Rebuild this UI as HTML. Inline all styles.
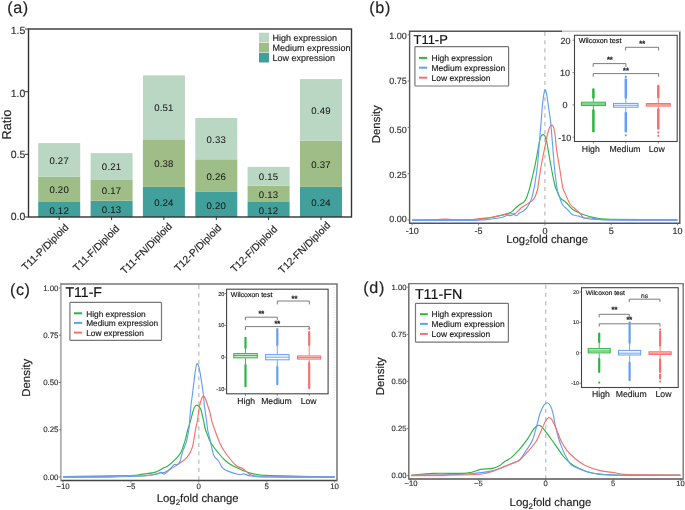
<!DOCTYPE html>
<html><head><meta charset="utf-8"><style>
html,body{margin:0;padding:0;background:#fff;}
svg{display:block;} text{stroke-width:0.16px;} svg{will-change:transform;text-rendering:geometricPrecision;font-family:"Liberation Sans", sans-serif;}
</style></head><body>
<svg width="685" height="510" viewBox="0 0 685 510">
<rect width="685" height="510" fill="#fff"/>
<text x="7.2" y="13.4" font-size="16.2" fill="#222" stroke="#222" letter-spacing="0.6">(a)</text>
<rect x="38.2" y="202.0" width="42" height="15.0" fill="#41a09b"/>
<rect x="38.2" y="176.9" width="42" height="25.1" fill="#9fbd86"/>
<rect x="38.2" y="143.1" width="42" height="33.8" fill="#b9d7c3"/>
<text x="59.2" y="213.5" font-size="9.60" text-anchor="middle" fill="#1a1a1a" stroke="#1a1a1a" letter-spacing="0.2" style="stroke-width:0.05px">0.12</text>
<text x="59.2" y="193.4" font-size="9.60" text-anchor="middle" fill="#1a1a1a" stroke="#1a1a1a" letter-spacing="0.2" style="stroke-width:0.05px">0.20</text>
<text x="59.2" y="164.0" font-size="9.60" text-anchor="middle" fill="#1a1a1a" stroke="#1a1a1a" letter-spacing="0.2" style="stroke-width:0.05px">0.27</text>
<line x1="59.2" y1="217.0" x2="59.2" y2="220.0" stroke="#333" stroke-width="1"/>
<text transform="translate(69.2,228.0) rotate(-45)" font-size="10.2" text-anchor="end" fill="#222" stroke="#222">T11-P/Diploid</text>
<rect x="90.6" y="200.7" width="42" height="16.3" fill="#41a09b"/>
<rect x="90.6" y="179.4" width="42" height="21.3" fill="#9fbd86"/>
<rect x="90.6" y="153.1" width="42" height="26.3" fill="#b9d7c3"/>
<text x="111.6" y="212.9" font-size="9.60" text-anchor="middle" fill="#1a1a1a" stroke="#1a1a1a" letter-spacing="0.2" style="stroke-width:0.05px">0.13</text>
<text x="111.6" y="194.1" font-size="9.60" text-anchor="middle" fill="#1a1a1a" stroke="#1a1a1a" letter-spacing="0.2" style="stroke-width:0.05px">0.17</text>
<text x="111.6" y="170.2" font-size="9.60" text-anchor="middle" fill="#1a1a1a" stroke="#1a1a1a" letter-spacing="0.2" style="stroke-width:0.05px">0.21</text>
<line x1="111.6" y1="217.0" x2="111.6" y2="220.0" stroke="#333" stroke-width="1"/>
<text transform="translate(120.0,229.2) rotate(-45)" font-size="10.2" text-anchor="end" fill="#222" stroke="#222">T11-F/Diploid</text>
<rect x="142.9" y="186.9" width="42" height="30.1" fill="#41a09b"/>
<rect x="142.9" y="139.3" width="42" height="47.6" fill="#9fbd86"/>
<rect x="142.9" y="75.4" width="42" height="63.9" fill="#b9d7c3"/>
<text x="163.9" y="206.0" font-size="9.60" text-anchor="middle" fill="#1a1a1a" stroke="#1a1a1a" letter-spacing="0.2" style="stroke-width:0.05px">0.24</text>
<text x="163.9" y="167.1" font-size="9.60" text-anchor="middle" fill="#1a1a1a" stroke="#1a1a1a" letter-spacing="0.2" style="stroke-width:0.05px">0.38</text>
<text x="163.9" y="111.3" font-size="9.60" text-anchor="middle" fill="#1a1a1a" stroke="#1a1a1a" letter-spacing="0.2" style="stroke-width:0.05px">0.51</text>
<line x1="163.9" y1="217.0" x2="163.9" y2="220.0" stroke="#333" stroke-width="1"/>
<text transform="translate(172.7,226.9) rotate(-45)" font-size="10.2" text-anchor="end" fill="#222" stroke="#222">T11-FN/Diploid</text>
<rect x="195.3" y="191.9" width="42" height="25.1" fill="#41a09b"/>
<rect x="195.3" y="159.3" width="42" height="32.6" fill="#9fbd86"/>
<rect x="195.3" y="118.0" width="42" height="41.4" fill="#b9d7c3"/>
<text x="216.3" y="208.5" font-size="9.60" text-anchor="middle" fill="#1a1a1a" stroke="#1a1a1a" letter-spacing="0.2" style="stroke-width:0.05px">0.20</text>
<text x="216.3" y="179.6" font-size="9.60" text-anchor="middle" fill="#1a1a1a" stroke="#1a1a1a" letter-spacing="0.2" style="stroke-width:0.05px">0.26</text>
<text x="216.3" y="142.7" font-size="9.60" text-anchor="middle" fill="#1a1a1a" stroke="#1a1a1a" letter-spacing="0.2" style="stroke-width:0.05px">0.33</text>
<line x1="216.3" y1="217.0" x2="216.3" y2="220.0" stroke="#333" stroke-width="1"/>
<text transform="translate(222.1,228.5) rotate(-45)" font-size="10.2" text-anchor="end" fill="#222" stroke="#222">T12-P/Diploid</text>
<rect x="247.6" y="202.0" width="42" height="15.0" fill="#41a09b"/>
<rect x="247.6" y="185.7" width="42" height="16.3" fill="#9fbd86"/>
<rect x="247.6" y="166.9" width="42" height="18.8" fill="#b9d7c3"/>
<text x="268.6" y="213.5" font-size="9.60" text-anchor="middle" fill="#1a1a1a" stroke="#1a1a1a" letter-spacing="0.2" style="stroke-width:0.05px">0.12</text>
<text x="268.6" y="197.8" font-size="9.60" text-anchor="middle" fill="#1a1a1a" stroke="#1a1a1a" letter-spacing="0.2" style="stroke-width:0.05px">0.13</text>
<text x="268.6" y="180.3" font-size="9.60" text-anchor="middle" fill="#1a1a1a" stroke="#1a1a1a" letter-spacing="0.2" style="stroke-width:0.05px">0.15</text>
<line x1="268.6" y1="217.0" x2="268.6" y2="220.0" stroke="#333" stroke-width="1"/>
<text transform="translate(277.9,229.8) rotate(-45)" font-size="10.2" text-anchor="end" fill="#222" stroke="#222">T12-F/Diploid</text>
<rect x="300.0" y="186.9" width="42" height="30.1" fill="#41a09b"/>
<rect x="300.0" y="140.5" width="42" height="46.4" fill="#9fbd86"/>
<rect x="300.0" y="79.1" width="42" height="61.4" fill="#b9d7c3"/>
<text x="321.0" y="206.0" font-size="9.60" text-anchor="middle" fill="#1a1a1a" stroke="#1a1a1a" letter-spacing="0.2" style="stroke-width:0.05px">0.24</text>
<text x="321.0" y="167.7" font-size="9.60" text-anchor="middle" fill="#1a1a1a" stroke="#1a1a1a" letter-spacing="0.2" style="stroke-width:0.05px">0.37</text>
<text x="321.0" y="113.8" font-size="9.60" text-anchor="middle" fill="#1a1a1a" stroke="#1a1a1a" letter-spacing="0.2" style="stroke-width:0.05px">0.49</text>
<line x1="321.0" y1="217.0" x2="321.0" y2="220.0" stroke="#333" stroke-width="1"/>
<text transform="translate(331.0,225.8) rotate(-45)" font-size="10.2" text-anchor="end" fill="#222" stroke="#222">T12-FN/Diploid</text>
<rect x="28.5" y="29.0" width="323.0" height="188.0" fill="none" stroke="#333" stroke-width="1.4"/>
<line x1="25" y1="217.0" x2="28.5" y2="217.0" stroke="#333" stroke-width="1"/>
<text x="25.3" y="219.7" font-size="10.50" text-anchor="end" fill="#333" stroke="#333" >0.0</text>
<line x1="25" y1="154.3" x2="28.5" y2="154.3" stroke="#333" stroke-width="1"/>
<text x="25.3" y="158.0" font-size="10.50" text-anchor="end" fill="#333" stroke="#333" >0.5</text>
<line x1="25" y1="91.7" x2="28.5" y2="91.7" stroke="#333" stroke-width="1"/>
<text x="25.3" y="96.8" font-size="10.50" text-anchor="end" fill="#333" stroke="#333" >1.0</text>
<line x1="25" y1="29.0" x2="28.5" y2="29.0" stroke="#333" stroke-width="1"/>
<text x="25.3" y="33.8" font-size="10.50" text-anchor="end" fill="#333" stroke="#333" >1.5</text>
<text transform="translate(11,139.5) rotate(-90)" font-size="12.8" fill="#222" stroke="#222">Ratio</text>
<rect x="259" y="32.7" width="10" height="9.6" fill="#b9d7c3"/>
<text x="272.5" y="40.9" font-size="9.00" text-anchor="start" fill="#222" stroke="#222" >High expression</text>
<rect x="259" y="42.8" width="10" height="9.6" fill="#9fbd86"/>
<text x="272.5" y="51.0" font-size="9.00" text-anchor="start" fill="#222" stroke="#222" >Medium expression</text>
<rect x="259" y="52.9" width="10" height="9.6" fill="#41a09b"/>
<text x="272.5" y="61.1" font-size="9.00" text-anchor="start" fill="#222" stroke="#222" >Low expression</text>
<text x="369.3" y="13.3" font-size="16.2" fill="#222" stroke="#222" letter-spacing="0.6">(b)</text>
<line x1="544.9" y1="32.0" x2="544.9" y2="223.3" stroke="#c4c4c4" stroke-width="1.4" stroke-dasharray="4.08,4.08"/>
<path d="M412.2,220.2 C421.8,220.2 458.7,220.2 470.0,220.0 C481.3,219.8 476.1,219.5 480.0,219.0 C483.9,218.5 489.2,217.9 493.1,217.2 C497.0,216.5 501.3,215.2 503.6,214.6 C505.9,214.0 505.8,213.9 507.0,213.6 C508.2,213.3 509.6,213.1 510.6,212.6 C511.6,212.1 512.3,211.3 513.0,210.6 C513.7,209.9 513.9,209.6 515.0,208.6 C516.1,207.6 517.9,205.8 519.4,204.7 C520.9,203.6 522.6,203.2 523.8,202.1 C525.0,201.0 525.5,200.1 526.4,198.1 C527.3,196.1 528.3,192.5 529.0,190.3 C529.7,188.1 529.4,189.2 530.4,185.0 C531.4,180.8 533.7,171.7 535.1,165.0 C536.5,158.3 537.9,149.5 538.8,145.0 C539.7,140.5 539.8,139.6 540.3,138.0 C540.8,136.4 541.1,135.9 541.6,135.3 C542.1,134.7 542.6,134.6 543.1,134.6 C543.6,134.6 544.1,134.8 544.6,135.5 C545.1,136.2 545.5,137.4 546.0,139.0 C546.5,140.6 546.5,140.7 547.3,145.0 C548.1,149.3 549.5,158.3 550.8,165.0 C552.0,171.7 553.8,180.8 554.8,185.0 C555.8,189.2 556.0,188.2 556.7,190.0 C557.4,191.8 558.0,194.0 558.8,195.5 C559.6,197.0 560.1,197.8 561.4,199.0 C562.7,200.2 564.7,201.2 566.6,203.0 C568.5,204.8 570.5,207.8 572.8,209.5 C575.1,211.2 577.8,212.3 580.6,213.5 C583.4,214.7 586.5,215.7 589.4,216.5 C592.3,217.3 594.8,217.9 598.2,218.3 C601.6,218.8 596.8,218.9 610.0,219.2 C623.2,219.5 666.2,219.9 677.5,220.0" fill="none" stroke="#2bb641" stroke-width="1.15" stroke-linejoin="round"/>
<path d="M412.2,220.2 C415.5,220.2 427.4,220.2 432.0,220.1 C436.6,220.0 437.7,219.6 440.0,219.4 C442.3,219.2 443.8,219.1 446.0,219.1 C448.2,219.1 449.8,219.5 453.0,219.7 C456.2,219.9 461.7,220.1 465.0,220.1 C468.3,220.1 470.5,219.8 473.0,219.5 C475.5,219.2 477.4,218.9 480.0,218.6 C482.6,218.3 485.2,218.4 488.8,217.8 C492.4,217.2 498.5,215.8 501.9,215.2 C505.2,214.5 506.7,214.2 508.9,213.9 C511.1,213.6 513.4,214.1 515.0,213.5 C516.6,212.9 517.3,211.4 518.5,210.4 C519.7,209.4 520.4,208.5 522.0,207.3 C523.6,206.1 526.5,204.6 528.2,203.4 C530.0,202.2 531.3,201.5 532.5,200.3 C533.7,199.1 534.3,198.4 535.2,196.4 C536.1,194.4 537.3,190.4 537.8,188.5 C538.3,186.6 537.6,188.9 538.2,185.0 C538.8,181.1 540.1,171.7 541.3,165.0 C542.5,158.3 544.3,150.0 545.3,145.0 C546.3,140.0 546.6,137.8 547.3,135.0 C548.0,132.2 548.8,129.5 549.3,128.0 C549.8,126.5 550.1,126.3 550.5,125.8 C550.9,125.3 551.3,125.1 551.7,125.1 C552.1,125.1 552.5,125.3 552.9,125.8 C553.2,126.3 553.4,126.1 553.8,128.0 C554.2,129.9 554.9,133.7 555.3,137.0 C555.7,140.3 555.8,143.3 556.4,148.0 C557.0,152.7 558.1,158.8 559.1,165.0 C560.1,171.2 561.6,180.8 562.3,185.0 C563.0,189.2 563.0,188.5 563.5,190.0 C564.0,191.5 564.2,191.4 565.3,193.8 C566.4,196.2 568.6,201.9 570.1,204.3 C571.6,206.7 573.0,206.9 574.5,208.2 C576.0,209.5 577.4,210.6 578.9,212.1 C580.4,213.6 582.0,216.4 583.3,217.4 C584.6,218.4 584.0,218.0 586.8,218.3 C589.6,218.7 584.9,219.2 600.0,219.5 C615.1,219.8 664.6,219.9 677.5,220.0" fill="none" stroke="#f6716d" stroke-width="1.15" stroke-linejoin="round"/>
<path d="M412.2,220.2 C423.5,220.1 466.5,220.1 480.0,219.8 C493.5,219.6 489.8,219.0 493.1,218.7 C496.5,218.4 498.2,218.2 500.1,217.8 C502.0,217.4 503.3,216.9 504.5,216.5 C505.7,216.1 506.1,215.3 507.1,215.2 C508.1,215.0 509.5,215.8 510.6,215.6 C511.7,215.4 512.7,214.3 513.7,214.3 C514.7,214.3 515.8,215.8 516.8,215.6 C517.8,215.4 518.4,213.7 519.4,213.0 C520.4,212.3 521.7,212.1 522.9,211.3 C524.1,210.5 525.4,209.4 526.4,208.2 C527.4,207.0 528.1,206.0 529.0,204.3 C529.9,202.6 530.9,200.5 531.7,198.1 C532.5,195.7 533.1,192.2 533.6,190.0 C534.1,187.8 534.1,189.2 534.7,185.0 C535.4,180.8 536.8,171.7 537.5,165.0 C538.2,158.3 538.7,151.2 539.2,145.0 C539.7,138.8 540.2,132.7 540.6,128.1 C541.0,123.5 541.2,121.0 541.5,117.4 C541.8,113.8 541.9,110.2 542.3,106.6 C542.6,103.0 543.2,98.3 543.6,95.8 C544.0,93.3 544.1,92.5 544.4,91.5 C544.7,90.5 544.9,89.6 545.2,89.6 C545.5,89.6 545.7,90.5 546.0,91.5 C546.3,92.5 546.5,93.3 546.9,95.8 C547.3,98.3 548.0,103.0 548.5,106.6 C549.0,110.2 549.6,113.8 550.1,117.4 C550.6,121.0 550.9,124.7 551.2,128.1 C551.5,131.5 551.8,135.1 552.0,137.9 C552.2,140.7 552.2,140.5 552.6,145.0 C553.0,149.5 553.5,157.8 554.2,165.0 C554.9,172.2 556.2,183.1 557.0,188.0 C557.8,192.9 557.9,191.9 558.8,194.6 C559.7,197.3 560.8,201.8 562.3,204.3 C563.8,206.8 565.8,207.8 567.5,209.5 C569.2,211.2 570.9,213.7 572.8,214.8 C574.7,215.9 576.9,215.5 578.9,216.1 C580.9,216.7 583.2,218.0 585.0,218.3 C586.8,218.6 587.2,217.7 589.4,217.8 C591.6,218.0 594.8,218.8 598.2,219.2 C601.6,219.6 596.8,219.9 610.0,220.0 C623.2,220.1 666.2,220.0 677.5,220.0" fill="none" stroke="#62a0f6" stroke-width="1.15" stroke-linejoin="round"/>
<linearGradient id="tg412_0" gradientUnits="userSpaceOnUse" x1="412.2" y1="0" x2="490.0" y2="0"><stop offset="0" stop-color="#62a0f6" stop-opacity="1"/><stop offset="0.8" stop-color="#62a0f6" stop-opacity="1"/><stop offset="1" stop-color="#62a0f6" stop-opacity="0"/></linearGradient>
<rect x="412.2" y="219.40" width="77.8" height="1.4" fill="url(#tg412_0)"/>
<linearGradient id="tg595_1" gradientUnits="userSpaceOnUse" x1="595.0" y1="0" x2="677.5" y2="0"><stop offset="0" stop-color="#62a0f6" stop-opacity="0"/><stop offset="0.35" stop-color="#62a0f6" stop-opacity="1"/><stop offset="1" stop-color="#62a0f6" stop-opacity="1"/></linearGradient>
<rect x="595.0" y="219.30" width="82.5" height="1.4" fill="url(#tg595_1)"/>
<line x1="409.6" y1="223.3" x2="679.8" y2="223.3" stroke="#555" stroke-width="1.4"/>
<line x1="409.6" y1="31.2" x2="409.6" y2="224.0" stroke="#555" stroke-width="1.4"/>
<line x1="679.8" y1="31.2" x2="679.8" y2="224.0" stroke="#555" stroke-width="1.4"/>
<line x1="408.9" y1="31.2" x2="562.0" y2="31.2" stroke="#555" stroke-width="1.4"/>
<line x1="562.0" y1="31.2" x2="680.5" y2="31.2" stroke="#c4c4c4" stroke-width="1.4"/>
<line x1="407.6" y1="220.0" x2="409.6" y2="220.0" stroke="#666" stroke-width="0.8"/>
<text x="406.9" y="221.6" font-size="9.00" text-anchor="end" fill="#333" stroke="#333" >0.00</text>
<line x1="407.6" y1="173.7" x2="409.6" y2="173.7" stroke="#666" stroke-width="0.8"/>
<text x="406.9" y="177.6" font-size="9.00" text-anchor="end" fill="#333" stroke="#333" >0.25</text>
<line x1="407.6" y1="127.4" x2="409.6" y2="127.4" stroke="#666" stroke-width="0.8"/>
<text x="406.9" y="132.6" font-size="9.00" text-anchor="end" fill="#333" stroke="#333" >0.50</text>
<line x1="407.6" y1="81.1" x2="409.6" y2="81.1" stroke="#666" stroke-width="0.8"/>
<text x="406.9" y="83.6" font-size="9.00" text-anchor="end" fill="#333" stroke="#333" >0.75</text>
<line x1="407.6" y1="34.8" x2="409.6" y2="34.8" stroke="#666" stroke-width="0.8"/>
<text x="406.9" y="38.6" font-size="9.00" text-anchor="end" fill="#333" stroke="#333" >1.00</text>
<line x1="412.2" y1="223.3" x2="412.2" y2="225.3" stroke="#666" stroke-width="0.8"/>
<text x="412.2" y="233.5" font-size="9.00" text-anchor="middle" fill="#333" stroke="#333" >-10</text>
<line x1="478.5" y1="223.3" x2="478.5" y2="225.3" stroke="#666" stroke-width="0.8"/>
<text x="478.5" y="233.5" font-size="9.00" text-anchor="middle" fill="#333" stroke="#333" >-5</text>
<line x1="544.9" y1="223.3" x2="544.9" y2="225.3" stroke="#666" stroke-width="0.8"/>
<text x="544.9" y="233.5" font-size="9.00" text-anchor="middle" fill="#333" stroke="#333" >0</text>
<line x1="611.2" y1="223.3" x2="611.2" y2="225.3" stroke="#666" stroke-width="0.8"/>
<text x="611.2" y="233.5" font-size="9.00" text-anchor="middle" fill="#333" stroke="#333" >5</text>
<line x1="677.5" y1="223.3" x2="677.5" y2="225.3" stroke="#666" stroke-width="0.8"/>
<text x="677.5" y="233.5" font-size="9.00" text-anchor="middle" fill="#333" stroke="#333" >10</text>
<text transform="translate(380.0,143.2) rotate(-90)" font-size="11.4" fill="#222" stroke="#222">Density</text>
<text x="506.3" y="242.7" font-size="11.3" fill="#222" stroke="#222">Log<tspan font-size="8" dy="2.5">2</tspan><tspan dy="-2.5">fold change</tspan></text>
<text x="413.6" y="43.6" font-size="12.90" text-anchor="start" fill="#111" stroke="#111" >T11-P</text>
<rect x="414.9" y="46.7" width="93.7" height="39.3" fill="#fff" stroke="#777" stroke-width="1.2" rx="0.8"/>
<line x1="418.9" y1="57.9" x2="427.2" y2="57.9" stroke="#2bb641" stroke-width="2"/>
<text x="431.5" y="61.1" font-size="8.50" text-anchor="start" fill="#1a1a1a" stroke="#1a1a1a" >High expression</text>
<line x1="418.9" y1="67.7" x2="427.2" y2="67.7" stroke="#62a0f6" stroke-width="2"/>
<text x="431.5" y="70.9" font-size="8.50" text-anchor="start" fill="#1a1a1a" stroke="#1a1a1a" >Medium expression</text>
<line x1="418.9" y1="77.7" x2="427.2" y2="77.7" stroke="#f6716d" stroke-width="2"/>
<text x="431.5" y="80.9" font-size="8.50" text-anchor="start" fill="#1a1a1a" stroke="#1a1a1a" >Low expression</text>
<rect x="574.5" y="35.3" width="102.7" height="106.2" fill="#fff" stroke="#444" stroke-width="1.1"/>
<line x1="572.5" y1="137.2" x2="574.5" y2="137.2" stroke="#555" stroke-width="0.7"/>
<text x="571.3" y="140.5" font-size="9.00" text-anchor="end" fill="#333" stroke="#333" >-10</text>
<line x1="572.5" y1="104.9" x2="574.5" y2="104.9" stroke="#555" stroke-width="0.7"/>
<text x="567.6" y="108.1" font-size="9.00" text-anchor="end" fill="#333" stroke="#333" >0</text>
<line x1="572.5" y1="72.6" x2="574.5" y2="72.6" stroke="#555" stroke-width="0.7"/>
<text x="570.0" y="75.8" font-size="9.00" text-anchor="end" fill="#333" stroke="#333" >10</text>
<line x1="572.5" y1="40.2" x2="574.5" y2="40.2" stroke="#555" stroke-width="0.7"/>
<text x="570.4" y="43.5" font-size="9.00" text-anchor="end" fill="#333" stroke="#333" >20</text>
<text x="578.7" y="42.9" font-size="7.20" text-anchor="start" fill="#111" stroke="#111" >Wilcoxon test</text>
<line x1="593.4" y1="141.5" x2="593.4" y2="143.5" stroke="#555" stroke-width="0.7"/>
<text x="590.8" y="151.8" font-size="8.70" text-anchor="middle" fill="#222" stroke="#222" >High</text>
<line x1="625.8" y1="141.5" x2="625.8" y2="143.5" stroke="#555" stroke-width="0.7"/>
<text x="625.0" y="151.8" font-size="8.70" text-anchor="middle" fill="#222" stroke="#222" >Medium</text>
<line x1="658.3" y1="141.5" x2="658.3" y2="143.5" stroke="#555" stroke-width="0.7"/>
<text x="656.7" y="151.8" font-size="8.70" text-anchor="middle" fill="#222" stroke="#222" >Low</text>
<path d="M625.6,50.5 V47.3 H658.6 V50.5" fill="none" stroke="#666" stroke-width="0.85"/>
<text x="642.2" y="46.0" font-size="7.50" text-anchor="middle" fill="#222" stroke="#222" font-weight="bold">**</text>
<path d="M593.2,66.9 V63.6 H625.9 V66.9" fill="none" stroke="#666" stroke-width="0.85"/>
<text x="609.8" y="62.3" font-size="7.50" text-anchor="middle" fill="#222" stroke="#222" font-weight="bold">**</text>
<path d="M593.2,76.7 V73.6 H658.6 V76.7" fill="none" stroke="#666" stroke-width="0.85"/>
<text x="625.9" y="72.5" font-size="7.50" text-anchor="middle" fill="#222" stroke="#222" font-weight="bold">**</text>
<line x1="593.4" y1="97.6" x2="593.4" y2="101.8" stroke="#2bb641" stroke-width="0.9"/>
<line x1="593.4" y1="106.1" x2="593.4" y2="110.4" stroke="#2bb641" stroke-width="0.9"/>
<line x1="593.4" y1="89.4" x2="593.4" y2="97.6" stroke="#2bb641" stroke-width="2.50" stroke-linecap="round"/>
<line x1="593.4" y1="110.4" x2="593.4" y2="122.5" stroke="#2bb641" stroke-width="2.50" stroke-linecap="round"/>
<line x1="593.4" y1="124.0" x2="593.4" y2="131.2" stroke="#2bb641" stroke-width="2.50" stroke-linecap="round"/>
<rect x="581.4" y="102.2" width="24.0" height="3.4" fill="#cdeccf" stroke="#2bb641" stroke-width="1.0"/>
<line x1="581.4" y1="104.0" x2="605.4" y2="104.0" stroke="#2bb641" stroke-width="0.9"/>
<line x1="625.8" y1="97.6" x2="625.8" y2="102.9" stroke="#62a0f6" stroke-width="0.9"/>
<line x1="625.8" y1="107.6" x2="625.8" y2="113.0" stroke="#62a0f6" stroke-width="0.9"/>
<line x1="625.8" y1="79.5" x2="625.8" y2="97.6" stroke="#62a0f6" stroke-width="2.50" stroke-linecap="round"/>
<line x1="625.8" y1="113.0" x2="625.8" y2="131.2" stroke="#62a0f6" stroke-width="2.50" stroke-linecap="round"/>
<circle cx="625.8" cy="70.0" r="1.1" fill="#62a0f6"/>
<circle cx="625.8" cy="76.9" r="1.1" fill="#62a0f6"/>
<circle cx="625.8" cy="135.3" r="1.1" fill="#62a0f6"/>
<rect x="613.5" y="103.4" width="24.5" height="3.8" fill="#f7faff" stroke="#62a0f6" stroke-width="1.0"/>
<line x1="613.5" y1="105.3" x2="638.0" y2="105.3" stroke="#62a0f6" stroke-width="0.9"/>
<line x1="658.3" y1="97.0" x2="658.3" y2="103.1" stroke="#f6716d" stroke-width="0.9"/>
<line x1="658.3" y1="106.6" x2="658.3" y2="109.5" stroke="#f6716d" stroke-width="0.9"/>
<line x1="658.3" y1="86.0" x2="658.3" y2="97.0" stroke="#f6716d" stroke-width="2.50" stroke-linecap="round"/>
<line x1="658.3" y1="109.5" x2="658.3" y2="128.5" stroke="#f6716d" stroke-width="2.50" stroke-linecap="round"/>
<circle cx="658.3" cy="132.4" r="1.1" fill="#f6716d"/>
<circle cx="658.3" cy="135.8" r="1.1" fill="#f6716d"/>
<rect x="646.3" y="103.5" width="24.0" height="2.6" fill="#fcd9d8" stroke="#f6716d" stroke-width="1.0"/>
<line x1="646.3" y1="104.8" x2="670.3" y2="104.8" stroke="#f6716d" stroke-width="0.9"/>
<text x="9.9" y="294.5" font-size="16.2" fill="#222" stroke="#222" letter-spacing="0.6">(c)</text>
<line x1="198.8" y1="285.0" x2="198.8" y2="480.5" stroke="#c4c4c4" stroke-width="1.4" stroke-dasharray="4.155,4.155"/>
<path d="M63.0,476.5 C74.2,476.3 117.1,475.8 130.0,475.5 C142.9,475.2 136.1,475.0 140.2,474.5 C144.3,474.0 150.6,473.5 154.5,472.4 C158.4,471.3 161.3,469.0 163.7,467.8 C166.1,466.6 166.6,467.0 168.8,465.3 C171.0,463.6 174.9,459.8 177.0,457.6 C179.1,455.4 179.7,454.9 181.1,452.0 C182.5,449.1 184.1,443.9 185.2,440.2 C186.3,436.5 186.8,433.2 187.7,430.0 C188.6,426.8 189.7,423.9 190.5,420.9 C191.3,417.9 192.1,414.3 192.8,412.0 C193.5,409.7 193.9,408.1 194.6,407.0 C195.2,405.9 196.0,405.2 196.7,405.1 C197.4,405.0 198.2,405.7 198.9,406.5 C199.6,407.3 200.2,407.6 201.0,410.0 C201.8,412.4 202.8,417.6 203.6,420.9 C204.4,424.2 204.3,426.3 205.6,430.0 C206.9,433.7 209.1,439.5 211.2,443.3 C213.3,447.1 216.0,450.1 218.4,453.0 C220.8,455.9 223.1,458.6 225.5,460.7 C227.9,462.8 229.8,464.2 232.7,465.8 C235.6,467.4 239.8,469.1 242.9,470.4 C246.0,471.7 248.0,472.6 251.1,473.4 C254.2,474.2 258.2,474.6 261.3,475.0 C264.4,475.4 257.8,475.2 270.0,475.5 C282.2,475.8 323.8,476.8 334.6,477.0" fill="none" stroke="#2bb641" stroke-width="1.15" stroke-linejoin="round"/>
<path d="M63.0,477.0 C69.2,476.9 88.8,476.8 100.0,476.5 C111.2,476.2 123.0,475.6 130.0,475.5 C137.1,475.4 138.9,476.1 142.3,476.0 C145.7,475.9 147.3,475.5 150.4,475.0 C153.5,474.5 158.3,473.1 160.7,472.9 C163.1,472.7 163.0,474.6 164.7,473.9 C166.4,473.2 168.5,470.5 170.9,468.8 C173.3,467.1 176.3,465.6 179.0,463.7 C181.7,461.8 185.0,459.8 187.2,457.1 C189.4,454.4 190.9,451.9 192.3,447.4 C193.7,442.9 194.6,434.4 195.4,430.0 C196.2,425.6 196.9,423.9 197.4,420.9 C197.9,417.9 198.2,414.6 198.6,412.0 C199.0,409.4 199.3,407.2 199.8,405.0 C200.3,402.8 200.9,400.5 201.5,399.0 C202.1,397.5 202.7,396.0 203.3,395.9 C203.9,395.8 204.6,397.0 205.3,398.5 C206.0,400.0 206.8,402.8 207.5,405.0 C208.2,407.2 209.1,409.4 209.8,412.0 C210.5,414.6 211.0,417.9 211.8,420.9 C212.6,423.9 213.4,426.1 214.8,430.0 C216.2,433.9 218.6,440.5 220.4,444.3 C222.2,448.1 222.9,449.5 225.5,453.0 C228.1,456.5 232.9,462.7 235.8,465.3 C238.7,467.9 240.5,467.3 242.9,468.8 C245.3,470.3 247.9,473.3 250.1,474.5 C252.3,475.7 252.9,475.7 256.2,476.0 C259.5,476.3 256.9,476.1 270.0,476.3 C283.1,476.5 323.8,476.9 334.6,477.0" fill="none" stroke="#f6716d" stroke-width="1.15" stroke-linejoin="round"/>
<path d="M63.0,477.0 C74.2,476.9 114.6,476.9 130.0,476.5 C145.4,476.1 150.4,475.2 155.5,474.5 C160.6,473.8 159.2,472.8 160.7,472.4 C162.2,472.0 163.0,473.1 164.7,472.4 C166.4,471.7 169.4,469.6 170.9,468.3 C172.4,467.0 172.7,465.4 173.9,464.7 C175.1,464.0 177.0,464.9 178.0,464.2 C179.0,463.5 179.2,463.0 180.1,460.7 C180.9,458.4 182.1,453.5 183.1,450.4 C184.1,447.3 185.2,445.7 186.2,442.3 C187.1,438.9 188.2,433.6 188.8,430.0 C189.4,426.4 189.2,425.1 189.6,420.9 C190.0,416.7 190.6,409.1 191.0,405.0 C191.4,400.9 191.6,401.1 192.2,396.2 C192.8,391.3 194.1,380.5 194.7,375.6 C195.3,370.7 195.7,368.9 196.0,367.0 C196.3,365.1 196.5,365.1 196.7,364.5 C196.9,363.9 197.2,363.5 197.4,363.5 C197.6,363.5 197.8,363.9 198.1,364.5 C198.3,365.1 198.5,365.1 198.9,367.0 C199.3,368.9 199.8,370.7 200.6,375.6 C201.4,380.5 203.0,391.3 203.6,396.2 C204.2,401.1 203.8,400.9 204.3,405.0 C204.8,409.1 206.0,416.7 206.6,420.9 C207.2,425.1 207.1,426.8 207.7,430.0 C208.3,433.2 209.2,435.9 210.2,440.2 C211.2,444.4 212.4,452.1 213.8,455.5 C215.2,458.9 217.0,458.6 218.4,460.7 C219.8,462.8 220.8,466.0 222.5,467.8 C224.2,469.6 225.9,470.3 228.6,471.4 C231.3,472.5 236.2,474.1 238.8,474.5 C241.4,474.9 241.9,473.6 243.9,473.9 C245.9,474.1 246.8,475.5 251.1,476.0 C255.4,476.5 256.1,476.8 270.0,477.0 C283.9,477.2 323.8,477.0 334.6,477.0" fill="none" stroke="#62a0f6" stroke-width="1.15" stroke-linejoin="round"/>
<linearGradient id="tg63_0" gradientUnits="userSpaceOnUse" x1="63.0" y1="0" x2="120.0" y2="0"><stop offset="0" stop-color="#62a0f6" stop-opacity="1"/><stop offset="0.8" stop-color="#62a0f6" stop-opacity="1"/><stop offset="1" stop-color="#62a0f6" stop-opacity="0"/></linearGradient>
<rect x="63.0" y="476.30" width="57.0" height="1.4" fill="url(#tg63_0)"/>
<linearGradient id="tg255_1" gradientUnits="userSpaceOnUse" x1="255.0" y1="0" x2="334.6" y2="0"><stop offset="0" stop-color="#62a0f6" stop-opacity="0"/><stop offset="0.35" stop-color="#62a0f6" stop-opacity="1"/><stop offset="1" stop-color="#62a0f6" stop-opacity="1"/></linearGradient>
<rect x="255.0" y="476.30" width="79.6" height="1.4" fill="url(#tg255_1)"/>
<line x1="60.9" y1="480.5" x2="337.0" y2="480.5" stroke="#444" stroke-width="1.4"/>
<line x1="60.9" y1="284.0" x2="60.9" y2="481.2" stroke="#999" stroke-width="1.4"/>
<line x1="337.0" y1="284.0" x2="337.0" y2="481.2" stroke="#6a6a6a" stroke-width="1.4"/>
<line x1="60.2" y1="284.0" x2="337.7" y2="284.0" stroke="#777" stroke-width="1.4"/>
<line x1="58.9" y1="477.0" x2="60.9" y2="477.0" stroke="#666" stroke-width="0.8"/>
<text x="58.5" y="479.6" font-size="7.90" text-anchor="end" fill="#333" stroke="#333" >0.00</text>
<line x1="58.9" y1="429.8" x2="60.9" y2="429.8" stroke="#666" stroke-width="0.8"/>
<text x="58.5" y="432.4" font-size="7.90" text-anchor="end" fill="#333" stroke="#333" >0.25</text>
<line x1="58.9" y1="382.5" x2="60.9" y2="382.5" stroke="#666" stroke-width="0.8"/>
<text x="58.5" y="385.1" font-size="7.90" text-anchor="end" fill="#333" stroke="#333" >0.50</text>
<line x1="58.9" y1="335.2" x2="60.9" y2="335.2" stroke="#666" stroke-width="0.8"/>
<text x="58.5" y="337.9" font-size="7.90" text-anchor="end" fill="#333" stroke="#333" >0.75</text>
<line x1="58.9" y1="288.0" x2="60.9" y2="288.0" stroke="#666" stroke-width="0.8"/>
<text x="58.5" y="290.6" font-size="7.90" text-anchor="end" fill="#333" stroke="#333" >1.00</text>
<line x1="63.0" y1="480.5" x2="63.0" y2="482.5" stroke="#666" stroke-width="0.8"/>
<text x="63.0" y="488.7" font-size="7.90" text-anchor="middle" fill="#333" stroke="#333" >&#8722;10</text>
<line x1="130.9" y1="480.5" x2="130.9" y2="482.5" stroke="#666" stroke-width="0.8"/>
<text x="130.9" y="488.7" font-size="7.90" text-anchor="middle" fill="#333" stroke="#333" >&#8722;5</text>
<line x1="198.8" y1="480.5" x2="198.8" y2="482.5" stroke="#666" stroke-width="0.8"/>
<text x="198.8" y="488.7" font-size="7.90" text-anchor="middle" fill="#333" stroke="#333" >0</text>
<line x1="266.7" y1="480.5" x2="266.7" y2="482.5" stroke="#666" stroke-width="0.8"/>
<text x="266.7" y="488.7" font-size="7.90" text-anchor="middle" fill="#333" stroke="#333" >5</text>
<line x1="334.6" y1="480.5" x2="334.6" y2="482.5" stroke="#666" stroke-width="0.8"/>
<text x="334.6" y="488.7" font-size="7.90" text-anchor="middle" fill="#333" stroke="#333" >10</text>
<text transform="translate(29.8,396.7) rotate(-90)" font-size="11.4" fill="#222" stroke="#222">Density</text>
<text x="156.8" y="502.4" font-size="11.3" fill="#222" stroke="#222">Log<tspan font-size="8" dy="2.5">2</tspan><tspan dy="-2.5">fold change</tspan></text>
<text x="65.4" y="297.4" font-size="14.10" text-anchor="start" fill="#111" stroke="#111" >T11-F</text>
<rect x="69.9" y="302.4" width="91.6" height="38.0" fill="#fff" stroke="#777" stroke-width="1.2" rx="0.8"/>
<line x1="73.9" y1="313.3" x2="82.2" y2="313.3" stroke="#2bb641" stroke-width="2"/>
<text x="86.2" y="316.5" font-size="8.30" text-anchor="start" fill="#1a1a1a" stroke="#1a1a1a" >High expression</text>
<line x1="73.9" y1="322.9" x2="82.2" y2="322.9" stroke="#62a0f6" stroke-width="2"/>
<text x="86.2" y="326.1" font-size="8.30" text-anchor="start" fill="#1a1a1a" stroke="#1a1a1a" >Medium expression</text>
<line x1="73.9" y1="332.6" x2="82.2" y2="332.6" stroke="#f6716d" stroke-width="2"/>
<text x="86.2" y="335.8" font-size="8.30" text-anchor="start" fill="#1a1a1a" stroke="#1a1a1a" >Low expression</text>
<rect x="226.6" y="289.2" width="101.5" height="104.6" fill="#fff" stroke="#444" stroke-width="1.1"/>
<line x1="224.6" y1="389.2" x2="226.6" y2="389.2" stroke="#555" stroke-width="0.7"/>
<text x="224.4" y="391.2" font-size="5.60" text-anchor="end" fill="#333" stroke="#333" >-10</text>
<line x1="224.6" y1="357.3" x2="226.6" y2="357.3" stroke="#555" stroke-width="0.7"/>
<text x="224.4" y="359.3" font-size="5.60" text-anchor="end" fill="#333" stroke="#333" >0</text>
<line x1="224.6" y1="325.4" x2="226.6" y2="325.4" stroke="#555" stroke-width="0.7"/>
<text x="224.4" y="327.4" font-size="5.60" text-anchor="end" fill="#333" stroke="#333" >10</text>
<line x1="224.6" y1="293.5" x2="226.6" y2="293.5" stroke="#555" stroke-width="0.7"/>
<text x="224.4" y="295.5" font-size="5.60" text-anchor="end" fill="#333" stroke="#333" >20</text>
<text x="230.8" y="296.8" font-size="7.00" text-anchor="start" fill="#111" stroke="#111" >Wilcoxon test</text>
<line x1="245.5" y1="393.8" x2="245.5" y2="395.8" stroke="#555" stroke-width="0.7"/>
<text x="246.2" y="403.8" font-size="8.60" text-anchor="middle" fill="#222" stroke="#222" >High</text>
<line x1="277.3" y1="393.8" x2="277.3" y2="395.8" stroke="#555" stroke-width="0.7"/>
<text x="276.5" y="403.8" font-size="8.60" text-anchor="middle" fill="#222" stroke="#222" >Medium</text>
<line x1="309.2" y1="393.8" x2="309.2" y2="395.8" stroke="#555" stroke-width="0.7"/>
<text x="308.7" y="403.8" font-size="8.60" text-anchor="middle" fill="#222" stroke="#222" >Low</text>
<path d="M277.3,304.5 V301.0 H309.3 V304.5" fill="none" stroke="#666" stroke-width="0.85"/>
<text x="294.4" y="300.6" font-size="7.50" text-anchor="middle" fill="#222" stroke="#222" font-weight="bold">**</text>
<path d="M245.4,320.3 V317.2 H277.3 V320.3" fill="none" stroke="#666" stroke-width="0.85"/>
<text x="261.3" y="316.4" font-size="7.50" text-anchor="middle" fill="#222" stroke="#222" font-weight="bold">**</text>
<path d="M245.4,330.0 V326.6 H309.3 V330.0" fill="none" stroke="#666" stroke-width="0.85"/>
<text x="277.3" y="326.0" font-size="7.50" text-anchor="middle" fill="#222" stroke="#222" font-weight="bold">**</text>
<line x1="245.5" y1="348.0" x2="245.5" y2="353.1" stroke="#2bb641" stroke-width="0.9"/>
<line x1="245.5" y1="358.2" x2="245.5" y2="365.0" stroke="#2bb641" stroke-width="0.9"/>
<line x1="245.5" y1="337.8" x2="245.5" y2="348.0" stroke="#2bb641" stroke-width="2.20" stroke-linecap="round"/>
<line x1="245.5" y1="365.0" x2="245.5" y2="386.2" stroke="#2bb641" stroke-width="2.20" stroke-linecap="round"/>
<rect x="233.8" y="353.6" width="23.5" height="4.2" fill="#cdeccf" stroke="#2bb641" stroke-width="1.0"/>
<line x1="233.8" y1="355.5" x2="257.2" y2="355.5" stroke="#2bb641" stroke-width="0.9"/>
<line x1="277.3" y1="345.0" x2="277.3" y2="354.1" stroke="#62a0f6" stroke-width="0.9"/>
<line x1="277.3" y1="360.2" x2="277.3" y2="367.0" stroke="#62a0f6" stroke-width="0.9"/>
<line x1="277.3" y1="329.0" x2="277.3" y2="345.0" stroke="#62a0f6" stroke-width="2.20" stroke-linecap="round"/>
<line x1="277.3" y1="367.0" x2="277.3" y2="384.2" stroke="#62a0f6" stroke-width="2.20" stroke-linecap="round"/>
<rect x="265.6" y="354.6" width="23.5" height="5.2" fill="#f7faff" stroke="#62a0f6" stroke-width="1.0"/>
<line x1="265.6" y1="357.2" x2="289.1" y2="357.2" stroke="#62a0f6" stroke-width="0.9"/>
<line x1="309.2" y1="345.0" x2="309.2" y2="355.5" stroke="#f6716d" stroke-width="0.9"/>
<line x1="309.2" y1="359.6" x2="309.2" y2="363.0" stroke="#f6716d" stroke-width="0.9"/>
<line x1="309.2" y1="332.0" x2="309.2" y2="345.0" stroke="#f6716d" stroke-width="2.20" stroke-linecap="round"/>
<line x1="309.2" y1="363.0" x2="309.2" y2="388.2" stroke="#f6716d" stroke-width="2.20" stroke-linecap="round"/>
<circle cx="309.2" cy="328.5" r="1.1" fill="#f6716d"/>
<rect x="297.6" y="355.9" width="23.1" height="3.2" fill="#fcd9d8" stroke="#f6716d" stroke-width="1.0"/>
<line x1="297.6" y1="357.5" x2="320.8" y2="357.5" stroke="#f6716d" stroke-width="0.9"/>
<line x1="334.2" y1="287" x2="334.2" y2="400" stroke="#d0d0d0" stroke-width="0.8" stroke-dasharray="1,1.5"/>
<text x="363.3" y="293.1" font-size="16.2" fill="#222" stroke="#222" letter-spacing="0.6">(d)</text>
<line x1="545.7" y1="284.7" x2="545.7" y2="479.0" stroke="#c4c4c4" stroke-width="1.4" stroke-dasharray="4.14,4.14"/>
<path d="M411.0,475.3 C414.7,475.0 424.1,473.8 433.4,473.4 C442.7,473.0 459.0,473.8 466.9,473.1 C474.8,472.4 476.4,470.2 480.6,469.4 C484.9,468.6 489.2,469.0 492.4,468.4 C495.6,467.8 498.1,466.6 500.0,465.5 C501.9,464.4 502.2,463.3 504.1,462.0 C506.0,460.7 508.6,459.7 511.2,457.6 C513.8,455.5 516.7,452.5 519.4,449.4 C522.1,446.3 525.2,442.1 527.6,438.8 C530.0,435.5 531.8,431.6 533.5,429.4 C535.2,427.2 536.4,425.9 537.7,425.4 C539.0,424.9 540.1,425.5 541.5,426.6 C542.9,427.7 544.2,429.6 545.9,431.8 C547.6,434.0 549.8,437.3 551.8,440.0 C553.8,442.7 555.6,445.4 557.6,448.2 C559.6,450.9 561.5,454.1 563.5,456.5 C565.5,458.9 567.4,460.7 569.4,462.4 C571.4,464.1 572.4,464.9 575.3,466.5 C578.2,468.1 582.9,470.5 587.0,471.8 C591.1,473.1 594.5,473.8 600.0,474.4 C605.5,475.0 606.6,475.1 620.0,475.3 C633.4,475.5 670.3,475.3 680.4,475.3" fill="none" stroke="#2bb641" stroke-width="1.15" stroke-linejoin="round"/>
<path d="M411.0,475.5 C420.2,475.2 452.2,474.8 466.0,474.0 C479.8,473.2 486.4,472.2 493.5,470.6 C500.6,469.1 504.5,466.5 508.8,464.7 C513.1,462.9 516.6,462.1 519.4,460.0 C522.1,457.9 523.1,455.1 525.3,451.8 C527.5,448.5 530.5,444.6 532.4,440.2 C534.3,435.8 535.6,429.7 536.9,425.2 C538.2,420.7 538.9,416.6 540.1,413.3 C541.3,410.0 542.7,406.9 543.9,405.2 C545.1,403.4 546.0,402.7 547.1,402.8 C548.2,402.9 549.4,404.1 550.4,405.8 C551.4,407.6 552.2,410.1 553.0,413.3 C553.8,416.5 554.3,421.2 555.2,425.2 C556.1,429.1 557.2,433.6 558.2,437.0 C559.2,440.4 559.9,442.6 561.2,445.9 C562.5,449.1 564.1,453.3 565.9,456.5 C567.7,459.7 569.2,463.2 571.8,465.3 C574.3,467.4 578.7,468.3 581.2,469.4 C583.7,470.5 583.9,471.0 587.0,471.8 C590.1,472.6 594.5,473.6 600.0,474.1 C605.5,474.6 606.6,474.8 620.0,475.0 C633.4,475.2 670.3,475.2 680.4,475.3" fill="none" stroke="#62a0f6" stroke-width="1.15" stroke-linejoin="round"/>
<path d="M411.0,475.5 C420.8,475.4 457.2,475.1 470.0,474.7 C482.8,474.3 482.1,474.2 487.6,472.9 C493.1,471.6 498.4,468.9 502.9,467.1 C507.4,465.4 512.0,463.5 514.7,462.4 C517.5,461.3 517.0,462.4 519.4,460.4 C521.8,458.4 526.0,453.7 528.8,450.6 C531.5,447.5 533.8,445.1 535.9,441.8 C538.0,438.5 539.7,433.9 541.2,430.6 C542.7,427.3 544.0,424.0 545.0,422.0 C546.0,420.0 546.6,419.3 547.3,418.6 C548.0,417.9 548.2,417.6 549.0,417.7 C549.8,417.8 550.5,417.6 551.8,419.5 C553.0,421.4 554.9,425.8 556.5,429.4 C558.1,433.0 559.4,437.7 561.2,441.2 C563.0,444.7 564.8,447.7 567.1,450.6 C569.5,453.5 572.4,456.4 575.3,458.8 C578.2,461.2 580.6,463.3 584.7,465.3 C588.8,467.3 595.2,469.4 600.0,470.6 C604.8,471.8 608.9,472.0 613.6,472.6 C618.3,473.2 617.1,474.1 628.2,474.5 C639.3,474.9 671.7,475.2 680.4,475.3" fill="none" stroke="#f6716d" stroke-width="1.15" stroke-linejoin="round"/>
<linearGradient id="tg411_0" gradientUnits="userSpaceOnUse" x1="411.0" y1="0" x2="450.0" y2="0"><stop offset="0" stop-color="#f6716d" stop-opacity="1"/><stop offset="0.8" stop-color="#f6716d" stop-opacity="1"/><stop offset="1" stop-color="#f6716d" stop-opacity="0"/></linearGradient>
<rect x="411.0" y="474.80" width="39.0" height="1.4" fill="url(#tg411_0)"/>
<linearGradient id="tg615_1" gradientUnits="userSpaceOnUse" x1="615.0" y1="0" x2="680.4" y2="0"><stop offset="0" stop-color="#f6716d" stop-opacity="0"/><stop offset="0.35" stop-color="#f6716d" stop-opacity="1"/><stop offset="1" stop-color="#f6716d" stop-opacity="1"/></linearGradient>
<rect x="615.0" y="474.60" width="65.4" height="1.4" fill="url(#tg615_1)"/>
<line x1="408.8" y1="479.0" x2="683.2" y2="479.0" stroke="#555" stroke-width="1.4"/>
<line x1="408.8" y1="283.6" x2="408.8" y2="479.7" stroke="#666" stroke-width="1.4"/>
<line x1="683.2" y1="283.6" x2="683.2" y2="479.7" stroke="#777" stroke-width="1.4"/>
<line x1="408.1" y1="283.6" x2="683.9" y2="283.6" stroke="#777" stroke-width="1.4"/>
<line x1="406.8" y1="475.6" x2="408.8" y2="475.6" stroke="#666" stroke-width="0.8"/>
<text x="406.4" y="478.4" font-size="7.60" text-anchor="end" fill="#333" stroke="#333" >0.00</text>
<line x1="406.8" y1="428.5" x2="408.8" y2="428.5" stroke="#666" stroke-width="0.8"/>
<text x="406.4" y="431.3" font-size="7.60" text-anchor="end" fill="#333" stroke="#333" >0.25</text>
<line x1="406.8" y1="381.4" x2="408.8" y2="381.4" stroke="#666" stroke-width="0.8"/>
<text x="406.4" y="384.2" font-size="7.60" text-anchor="end" fill="#333" stroke="#333" >0.50</text>
<line x1="406.8" y1="334.3" x2="408.8" y2="334.3" stroke="#666" stroke-width="0.8"/>
<text x="406.4" y="337.1" font-size="7.60" text-anchor="end" fill="#333" stroke="#333" >0.75</text>
<line x1="406.8" y1="287.2" x2="408.8" y2="287.2" stroke="#666" stroke-width="0.8"/>
<text x="406.4" y="290.0" font-size="7.60" text-anchor="end" fill="#333" stroke="#333" >1.00</text>
<line x1="411.0" y1="479.0" x2="411.0" y2="481.0" stroke="#666" stroke-width="0.8"/>
<text x="411.0" y="486.4" font-size="7.60" text-anchor="middle" fill="#333" stroke="#333" >&#8722;10</text>
<line x1="478.4" y1="479.0" x2="478.4" y2="481.0" stroke="#666" stroke-width="0.8"/>
<text x="478.4" y="486.4" font-size="7.60" text-anchor="middle" fill="#333" stroke="#333" >&#8722;5</text>
<line x1="545.7" y1="479.0" x2="545.7" y2="481.0" stroke="#666" stroke-width="0.8"/>
<text x="545.7" y="486.4" font-size="7.60" text-anchor="middle" fill="#333" stroke="#333" >0</text>
<line x1="613.0" y1="479.0" x2="613.0" y2="481.0" stroke="#666" stroke-width="0.8"/>
<text x="613.0" y="486.4" font-size="7.60" text-anchor="middle" fill="#333" stroke="#333" >5</text>
<line x1="680.4" y1="479.0" x2="680.4" y2="481.0" stroke="#666" stroke-width="0.8"/>
<text x="680.4" y="486.4" font-size="7.60" text-anchor="middle" fill="#333" stroke="#333" >10</text>
<text transform="translate(383.7,395.2) rotate(-90)" font-size="11.4" fill="#222" stroke="#222">Density</text>
<text x="509.6" y="506.2" font-size="11.3" fill="#222" stroke="#222">Log<tspan font-size="8" dy="2.5">2</tspan><tspan dy="-2.5">fold change</tspan></text>
<text x="414.9" y="298.6" font-size="14.30" text-anchor="start" fill="#111" stroke="#111" >T11-FN</text>
<rect x="415.5" y="303.3" width="92.9" height="38.9" fill="#fff" stroke="#777" stroke-width="1.2" rx="0.8"/>
<line x1="419.9" y1="314.2" x2="427.8" y2="314.2" stroke="#2bb641" stroke-width="2"/>
<text x="431.6" y="317.4" font-size="8.45" text-anchor="start" fill="#1a1a1a" stroke="#1a1a1a" >High expression</text>
<line x1="419.9" y1="323.9" x2="427.8" y2="323.9" stroke="#62a0f6" stroke-width="2"/>
<text x="431.6" y="327.1" font-size="8.45" text-anchor="start" fill="#1a1a1a" stroke="#1a1a1a" >Medium expression</text>
<line x1="419.9" y1="333.9" x2="427.8" y2="333.9" stroke="#f6716d" stroke-width="2"/>
<text x="431.6" y="337.1" font-size="8.45" text-anchor="start" fill="#1a1a1a" stroke="#1a1a1a" >Low expression</text>
<rect x="581.5" y="287.7" width="96.7" height="99.8" fill="#fff" stroke="#444" stroke-width="1.1"/>
<line x1="579.5" y1="383.2" x2="581.5" y2="383.2" stroke="#555" stroke-width="0.7"/>
<text x="579.0" y="385.1" font-size="5.40" text-anchor="end" fill="#333" stroke="#333" >-10</text>
<line x1="579.5" y1="352.8" x2="581.5" y2="352.8" stroke="#555" stroke-width="0.7"/>
<text x="579.0" y="354.7" font-size="5.40" text-anchor="end" fill="#333" stroke="#333" >0</text>
<line x1="579.5" y1="322.4" x2="581.5" y2="322.4" stroke="#555" stroke-width="0.7"/>
<text x="579.0" y="324.3" font-size="5.40" text-anchor="end" fill="#333" stroke="#333" >10</text>
<line x1="579.5" y1="292.0" x2="581.5" y2="292.0" stroke="#555" stroke-width="0.7"/>
<text x="579.0" y="293.9" font-size="5.40" text-anchor="end" fill="#333" stroke="#333" >20</text>
<text x="585.7" y="294.9" font-size="6.60" text-anchor="start" fill="#111" stroke="#111" >Wilcoxon test</text>
<line x1="599.2" y1="387.5" x2="599.2" y2="389.5" stroke="#555" stroke-width="0.7"/>
<text x="601.0" y="396.9" font-size="8.70" text-anchor="middle" fill="#222" stroke="#222" >High</text>
<line x1="629.6" y1="387.5" x2="629.6" y2="389.5" stroke="#555" stroke-width="0.7"/>
<text x="631.2" y="396.9" font-size="8.70" text-anchor="middle" fill="#222" stroke="#222" >Medium</text>
<line x1="660.1" y1="387.5" x2="660.1" y2="389.5" stroke="#555" stroke-width="0.7"/>
<text x="663.5" y="396.9" font-size="8.70" text-anchor="middle" fill="#222" stroke="#222" >Low</text>
<path d="M629.3,302.0 V299.2 H660.0 V302.0" fill="none" stroke="#666" stroke-width="0.85"/>
<text x="644.6" y="298.3" font-size="6.60" text-anchor="middle" fill="#222" stroke="#222" >ns</text>
<path d="M599.2,317.4 V314.3 H629.3 V317.4" fill="none" stroke="#666" stroke-width="0.85"/>
<text x="614.4" y="312.2" font-size="7.50" text-anchor="middle" fill="#222" stroke="#222" font-weight="bold">**</text>
<path d="M599.2,326.6 V323.8 H660.0 V326.6" fill="none" stroke="#666" stroke-width="0.85"/>
<text x="629.3" y="321.6" font-size="7.50" text-anchor="middle" fill="#222" stroke="#222" font-weight="bold">**</text>
<line x1="599.2" y1="342.0" x2="599.2" y2="348.2" stroke="#2bb641" stroke-width="0.9"/>
<line x1="599.2" y1="353.4" x2="599.2" y2="359.2" stroke="#2bb641" stroke-width="0.9"/>
<line x1="599.2" y1="333.6" x2="599.2" y2="342.0" stroke="#2bb641" stroke-width="2.20" stroke-linecap="round"/>
<line x1="599.2" y1="359.2" x2="599.2" y2="372.0" stroke="#2bb641" stroke-width="2.20" stroke-linecap="round"/>
<circle cx="599.2" cy="382.6" r="1.1" fill="#2bb641"/>
<rect x="588.2" y="348.6" width="22.0" height="4.3" fill="#cdeccf" stroke="#2bb641" stroke-width="1.0"/>
<line x1="588.2" y1="351.0" x2="610.2" y2="351.0" stroke="#2bb641" stroke-width="0.9"/>
<line x1="629.6" y1="342.8" x2="629.6" y2="350.0" stroke="#62a0f6" stroke-width="0.9"/>
<line x1="629.6" y1="355.5" x2="629.6" y2="362.8" stroke="#62a0f6" stroke-width="0.9"/>
<line x1="629.6" y1="322.5" x2="629.6" y2="342.8" stroke="#62a0f6" stroke-width="2.20" stroke-linecap="round"/>
<line x1="629.6" y1="362.8" x2="629.6" y2="380.2" stroke="#62a0f6" stroke-width="2.20" stroke-linecap="round"/>
<rect x="618.5" y="350.4" width="22.2" height="4.6" fill="#f7faff" stroke="#62a0f6" stroke-width="1.0"/>
<line x1="618.5" y1="353.2" x2="640.7" y2="353.2" stroke="#62a0f6" stroke-width="0.9"/>
<line x1="660.1" y1="345.5" x2="660.1" y2="351.4" stroke="#f6716d" stroke-width="0.9"/>
<line x1="660.1" y1="355.0" x2="660.1" y2="359.5" stroke="#f6716d" stroke-width="0.9"/>
<line x1="660.1" y1="331.5" x2="660.1" y2="345.5" stroke="#f6716d" stroke-width="2.20" stroke-linecap="round"/>
<line x1="660.1" y1="359.5" x2="660.1" y2="372.0" stroke="#f6716d" stroke-width="2.20" stroke-linecap="round"/>
<line x1="660.1" y1="374.5" x2="660.1" y2="378.5" stroke="#f6716d" stroke-width="2.20" stroke-linecap="round"/>
<circle cx="660.1" cy="329.6" r="1.1" fill="#f6716d"/>
<circle cx="660.1" cy="381.5" r="1.1" fill="#f6716d"/>
<rect x="649.0" y="351.8" width="22.2" height="2.7" fill="#fcd9d8" stroke="#f6716d" stroke-width="1.0"/>
<line x1="649.0" y1="353.2" x2="671.2" y2="353.2" stroke="#f6716d" stroke-width="0.9"/>
</svg></body></html>
